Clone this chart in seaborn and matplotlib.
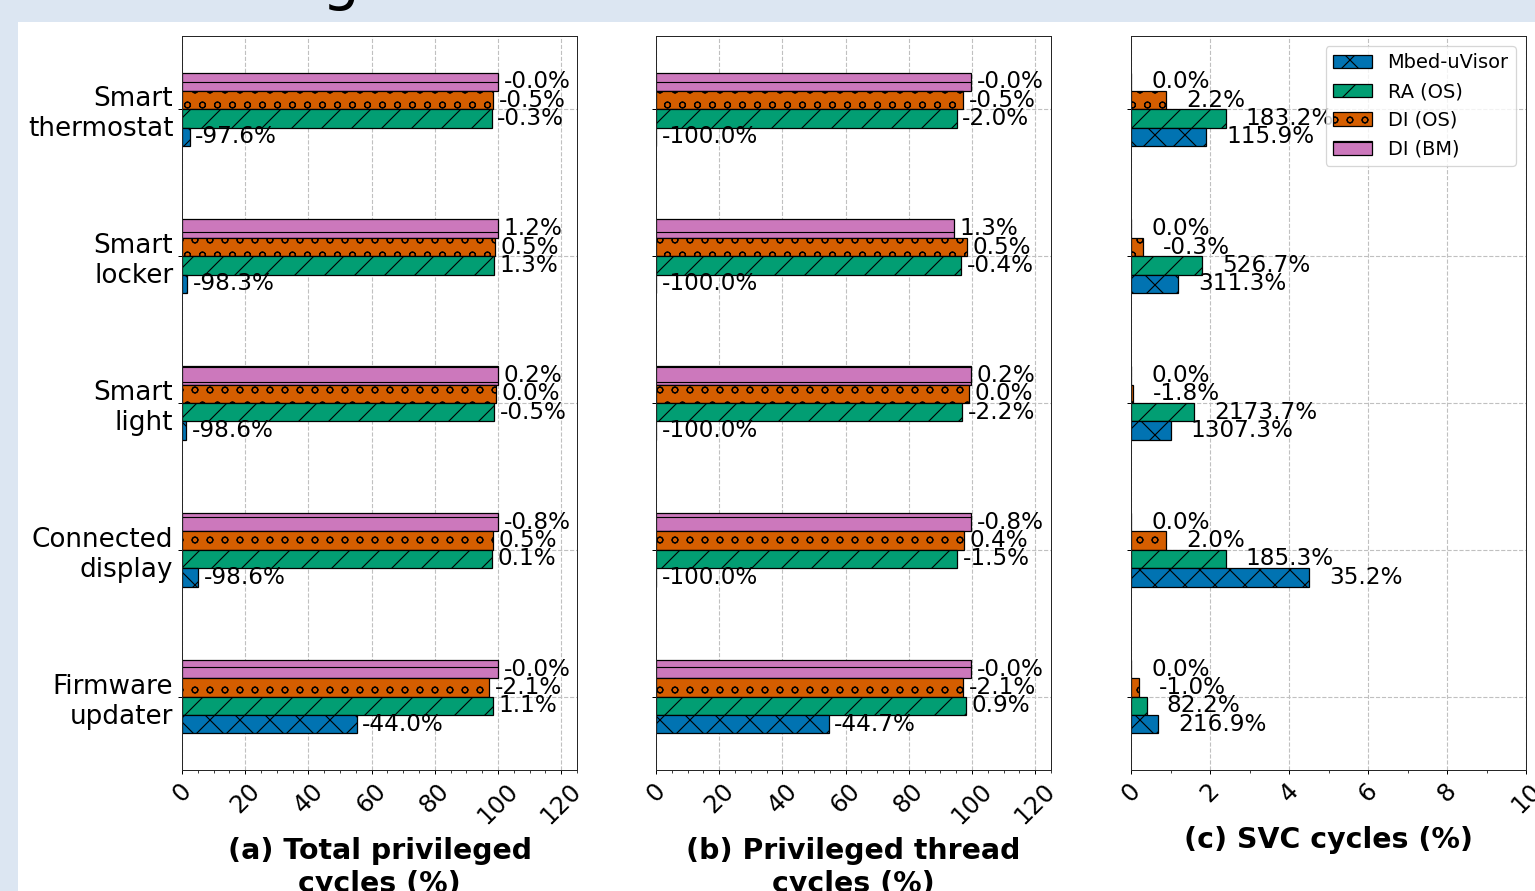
import matplotlib
matplotlib.use("Agg")
import numpy as np
import pandas as pd
import matplotlib.pyplot as plt
import seaborn as sns
from matplotlib.ticker import MultipleLocator
from matplotlib.patches import Rectangle, Patch

# categories, top to bottom
apps = ["Smart\nthermostat", "Smart\nlocker", "Smart\nlight", "Connected\ndisplay", "Firmware\nupdater"]
systems = ["Mbed-uVisor", "RA (OS)", "DI (OS)", "DI (BM)"]

# (a) total privileged cycles - bar lengths (%)
a_mbed = [2.4, 1.7, 1.4, 5.2, 55.3]
a_ra = [98.0, 98.7, 98.8, 98.1, 98.3]
a_di_os = [98.5, 99.0, 99.4, 98.3, 97.3]
a_di_bm = [100.0, 100.0, 100.0, 100.0, 100.0]
# (a) printed change labels (%)
a_mbed_lbl = [-97.6, -98.3, -98.6, -98.6, -44.0]
a_ra_lbl = [-0.3, 1.3, -0.5, 0.1, 1.1]
a_di_os_lbl = [-0.5, 0.5, 0.0, 0.5, -2.1]
a_di_bm_lbl = [-0.0, 1.2, 0.2, -0.8, -0.0]

# (b) privileged thread cycles
b_mbed = [0.0, 0.0, 0.0, 0.0, 54.7]
b_ra = [95.1, 96.5, 96.8, 95.3, 98.1]
b_di_os = [97.3, 98.4, 99.0, 97.5, 97.2]
b_di_bm = [99.7, 94.3, 99.7, 99.7, 99.7]
b_mbed_lbl = [-100.0, -100.0, -100.0, -100.0, -44.7]
b_ra_lbl = [-2.0, -0.4, -2.2, -1.5, 0.9]
b_di_os_lbl = [-0.5, 0.5, 0.0, 0.4, -2.1]
b_di_bm_lbl = [-0.0, 1.3, 0.2, -0.8, -0.0]

# (c) SVC cycles
c_mbed = [1.9, 1.2, 1.0, 4.5, 0.69]
c_ra = [2.4, 1.79, 1.6, 2.4, 0.4]
c_di_os = [0.89, 0.3, 0.06, 0.89, 0.2]
c_di_bm = [0.0, 0.0, 0.0, 0.0, 0.0]
c_mbed_lbl = [115.9, 311.3, 1307.3, 35.2, 216.9]
c_ra_lbl = [183.2, 526.7, 2173.7, 185.3, 82.2]
c_di_os_lbl = [2.2, -0.3, -1.8, 2.0, -1.0]
c_di_bm_lbl = [0.0, 0.0, 0.0, 0.0, 0.0]

cb = sns.color_palette("colorblind")
colors = {"Mbed-uVisor": cb[0], "RA (OS)": cb[2], "DI (OS)": cb[3], "DI (BM)": cb[4]}
hatches = {"Mbed-uVisor": "x", "RA (OS)": "/", "DI (OS)": "o", "DI (BM)": "-"}
draw_order = ["DI (BM)", "DI (OS)", "RA (OS)", "Mbed-uVisor"]


def make_df(mbed, ra, di_os, di_bm):
    rows = []
    for name, vals in zip(systems, [mbed, ra, di_os, di_bm]):
        for app, v in zip(apps, vals):
            rows.append({"app": app, "system": name, "value": v})
    return pd.DataFrame(rows)


panels = [
    (make_df(a_mbed, a_ra, a_di_os, a_di_bm),
     dict(zip(systems, [a_mbed_lbl, a_ra_lbl, a_di_os_lbl, a_di_bm_lbl])),
     "(a) Total privileged\ncycles (%)", 125, 20, 5, 4.4),
    (make_df(b_mbed, b_ra, b_di_os, b_di_bm),
     dict(zip(systems, [b_mbed_lbl, b_ra_lbl, b_di_os_lbl, b_di_bm_lbl])),
     "(b) Privileged thread\ncycles (%)", 125, 20, 5, 4.4),
    (make_df(c_mbed, c_ra, c_di_os, c_di_bm),
     dict(zip(systems, [c_mbed_lbl, c_ra_lbl, c_di_os_lbl, c_di_bm_lbl])),
     "(c) SVC cycles (%)", 10, 2, 1, 16),
]

sns.set_style("ticks")
plt.rcParams["font.family"] = ["DejaVu Sans"]
plt.rcParams["hatch.color"] = "black"
plt.rcParams["hatch.linewidth"] = 0.9
for key in ["text.color", "axes.labelcolor", "xtick.color", "ytick.color"]:
    plt.rcParams[key] = "black"

W, H, DPI = 1535, 891, 90
fig = plt.figure(figsize=(W / DPI, H / DPI), dpi=DPI, facecolor="#dce6f2")
fig.patches.append(Rectangle((18 / W, 0), 1, (H - 22) / H, transform=fig.transFigure,
                             facecolor="white", edgecolor="none", zorder=-1))
# tail of the slide title peeking in at the top
fig.text(341 / W, (H + 2) / H, "g", fontsize=48, ha="center", va="baseline", color="black")

lefts = [182, 656, 1131]
ax_w = 395
ax_top, ax_bot = 36, 770

for i, (df, lbls, xlabel, xmax, major, minor, pad) in enumerate(panels):
    ax = fig.add_axes([lefts[i] / W, 1 - ax_bot / H, ax_w / W, (ax_bot - ax_top) / H])
    sns.barplot(data=df, y="app", x="value", hue="system", hue_order=draw_order,
                order=apps, palette=colors, orient="h", width=0.5, gap=0, saturation=1,
                edgecolor="black", linewidth=1, legend=False, ax=ax)
    for name, cont in zip(draw_order, ax.containers):
        for p in cont:
            p.set_hatch(hatches[name])
        ax.bar_label(cont, labels=["%.1f%%" % v for v in lbls[name]],
                     padding=pad, fontsize=18.5)
    ax.set_xlim(0, xmax)
    ax.xaxis.set_major_locator(MultipleLocator(major))
    ax.xaxis.set_minor_locator(MultipleLocator(minor))
    ax.tick_params(axis="x", labelrotation=45, labelsize=19.5)
    ax.tick_params(axis="y", labelsize=21)
    ax.grid(True, which="major", ls="--", color="#c0c0c0", lw=0.9)
    ax.set_axisbelow(True)
    ax.set_ylabel("")
    ax.set_xlabel(xlabel, fontsize=22.7, fontweight="bold", labelpad=7)
    for s in ax.spines.values():
        s.set_visible(True)
        s.set_color("#262626")
    if i > 0:
        ax.tick_params(axis="y", labelleft=False)
    if i == 2:
        handles = [Patch(facecolor=colors[n], edgecolor="black", hatch=hatches[n], label=n)
                   for n in systems]
        ax.legend(handles=handles, loc="upper right", fontsize=15.5)

fig.savefig("out.png", dpi=DPI, facecolor=fig.get_facecolor())
